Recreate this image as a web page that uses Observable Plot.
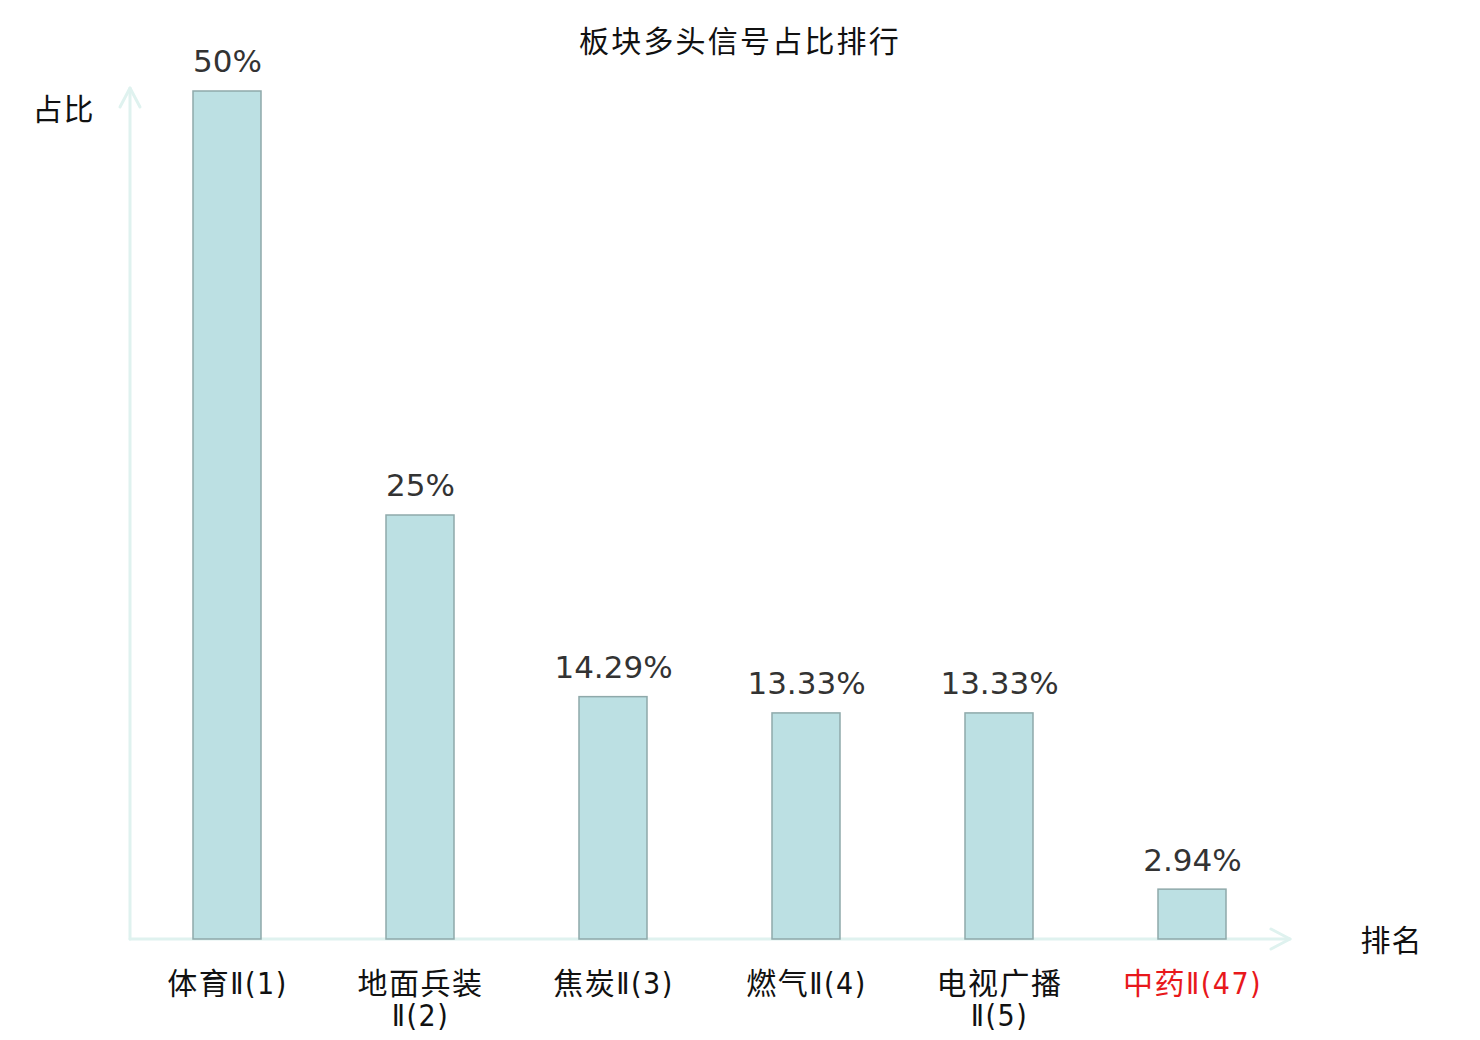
<!DOCTYPE html>
<html>
<head>
<meta charset="utf-8">
<script src="https://cdn.jsdelivr.net/npm/d3@7"></script>
<script src="https://cdn.jsdelivr.net/npm/@observablehq/plot@0.6"></script>
<style>
  html, body { margin: 0; padding: 0; background: #fff; }
  #chart { width: 1480px; height: 1040px; }
</style>
</head>
<body>
<div id="chart"></div>
<script>
const categories = ["体育Ⅱ(1)", "地面兵装Ⅱ(2)", "焦炭Ⅱ(3)", "燃气Ⅱ(4)", "电视广播Ⅱ(5)", "中药Ⅱ(47)"];
const tickLabels = ["体育Ⅱ(1)", "地面兵装\nⅡ(2)", "焦炭Ⅱ(3)", "燃气Ⅱ(4)", "电视广播\nⅡ(5)", "中药Ⅱ(47)"];
const values = [50, 25, 14.29, 13.33, 13.33, 2.94];
const valueLabels = ["50%", "25%", "14.29%", "13.33%", "13.33%", "2.94%"];
const highlighted = ["中药Ⅱ(47)"];
const titleText = "板块多头信号占比排行";
const yLabel = "占比";
const xLabel = "排名";

const data = categories.map((c, i) => ({cat: c, value: values[i], label: valueLabels[i], tick: tickLabels[i]}));

const axisColor = "#dff2ef";
const cjk = "'Noto Sans CJK SC', 'Noto Sans', sans-serif";
const tickFont = "'Liberation Sans Narrow', 'DejaVu Sans Condensed', 'Noto Sans CJK SC', sans-serif";

function spaced(px) {
  return (index, scales, values, dimensions, context, next) => {
    const g = next(index, scales, values, dimensions, context);
    g.setAttribute("letter-spacing", px + "px");
    return g;
  };
}

function axesMark(index, scales, values, dimensions) {
  const {width, height, marginLeft, marginRight, marginTop, marginBottom} = dimensions;
  const x0 = marginLeft;
  const y0 = scales.y(0);
  const xEnd = width - marginRight + 1;
  const yEnd = marginTop - 3;
  const g = d3.create("svg:g")
    .attr("fill", "none")
    .attr("stroke", axisColor)
    .attr("stroke-width", 3)
    .attr("stroke-linecap", "round")
    .attr("stroke-linejoin", "round");
  g.append("path").attr("d", `M${x0},${y0}H${xEnd}`);
  g.append("path").attr("d", `M${xEnd - 19},${y0 - 10}L${xEnd},${y0}L${xEnd - 19},${y0 + 10}`);
  g.append("path").attr("d", `M${x0},${y0}V${yEnd}`);
  g.append("path").attr("d", `M${x0 - 10},${yEnd + 19}L${x0},${yEnd}L${x0 + 10},${yEnd + 19}`);
  return g.node();
}

const chart = Plot.plot({
  width: 1480,
  height: 1040,
  marginLeft: 130,
  marginRight: 191,
  marginTop: 91,
  marginBottom: 101,
  style: {background: "#fff", overflow: "visible"},
  x: {domain: categories, paddingInner: 0.65, paddingOuter: 0.32, axis: null},
  y: {domain: [0, 50], axis: null},
  marks: [
    axesMark,
    Plot.barY(data, {x: "cat", y: "value", fill: "#bce0e3", stroke: "#8fa9aa", strokeWidth: 1.5}),
    Plot.text(data, {x: "cat", y: "value", text: "label", dy: -29, fill: "#333", fontSize: 31,
      fontFamily: "'DejaVu Sans', sans-serif", textAnchor: "middle", lineAnchor: "middle"}),
    Plot.text(data, {x: "cat", y: 0, text: "tick", dy: 32, lineHeight: 1.07, fontSize: 30, fontFamily: tickFont,
      fill: d => highlighted.includes(d.cat) ? "#e8181b" : "#111", lineAnchor: "top", render: spaced(1.5)}),
    Plot.text([titleText], {text: d => d, frameAnchor: "top", dx: 30, dy: -49, lineAnchor: "middle", fontSize: 30, fontFamily: cjk, fill: "#111", render: spaced(2.2)}),
    Plot.text([yLabel], {text: d => d, frameAnchor: "top-left", dx: -67, dy: 19, lineAnchor: "middle", fontSize: 30, fontFamily: cjk, fill: "#111", textAnchor: "middle", render: spaced(1)}),
    Plot.text([xLabel], {text: d => d, frameAnchor: "bottom-right", dx: 102, dy: 2, lineAnchor: "middle", fontSize: 30, fontFamily: cjk, fill: "#111", textAnchor: "middle", render: spaced(1)})
  ]
});
document.getElementById("chart").appendChild(chart);
</script>
</body>
</html>
